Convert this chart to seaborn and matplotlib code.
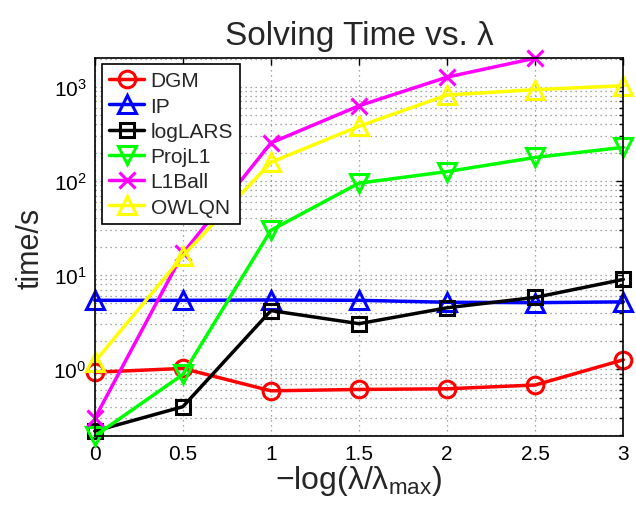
import numpy as np
import pandas as pd
import matplotlib
matplotlib.use("Agg")
import matplotlib.pyplot as plt
import matplotlib.ticker as mticker
import seaborn as sns

# values
lam = [0, 0.5, 1, 1.5, 2, 2.5, 3]
dgm = [0.93, 1.02, 0.59, 0.61, 0.62, 0.68, 1.26]
ip = [5.4, 5.4, 5.45, 5.4, 5.15, 5.1, 5.2]
loglars = [0.22, 0.40, 4.2, 3.05, 4.5, 5.8, 9.0]
projl1 = [0.195, 0.88, 30, 95, 126, 178, 228]
l1ball = [0.30, 17, 254, 630, 1270, 2020]
owlqn = [1.2, 16, 158, 382, 820, 935, 1030]

methods = ['DGM', 'IP', 'logLARS', 'ProjL1', 'L1Ball', 'OWLQN']
series = [dgm, ip, loglars, projl1, l1ball, owlqn]
colors = ['#ff0000', '#0000ff', '#000000', '#00ff00', '#ff00ff', '#ffff00']
markers = ['o', '^', 's', 'v', 'x', '^']
msizes = [12, 13, 10, 13, 11, 13]

sns.set_style("white")
plt.rcParams['font.family'] = ['Liberation Sans', 'DejaVu Sans']
plt.rcParams['mathtext.fontset'] = 'custom'
plt.rcParams['mathtext.rm'] = 'Liberation Sans'
plt.rcParams['mathtext.it'] = 'Liberation Sans:italic'

fig = plt.figure(figsize=(6.36, 5.10), dpi=100)
ax = fig.add_axes([0.149, 0.143, 0.831, 0.741])

for name, vals, c, m, ms in zip(methods, series, colors, markers, msizes):
    df = pd.DataFrame({'lam': lam[:len(vals)], 'time': vals})
    sns.lineplot(data=df, x='lam', y='time', ax=ax, color=c, marker=m,
                 markersize=ms, markerfacecolor='none', markeredgecolor=c,
                 markeredgewidth=2.2, linewidth=2.5, label=name, clip_on=False)

ax.set_yscale('log')
ax.set_xlim(0, 3)
all_vals = [v for s in series for v in s]
ax.set_ylim(min(all_vals), max(all_vals))

ax.xaxis.set_major_locator(mticker.FixedLocator(lam))
ax.xaxis.set_major_formatter(mticker.FormatStrFormatter('%g'))
ax.yaxis.set_major_locator(mticker.LogLocator(base=10))
ax.yaxis.set_minor_locator(mticker.LogLocator(base=10, subs=np.arange(2, 10)))
ax.yaxis.set_minor_formatter(mticker.NullFormatter())

# dotted grid like MATLAB's "grid on; grid minor"
ax.grid(True, which='major', axis='both', linestyle=(0, (1, 3)), color='#8a8a8a', linewidth=0.9)
ax.grid(True, which='minor', axis='y', linestyle=(0, (1, 3)), color='#8a8a8a', linewidth=0.9)
ax.set_axisbelow(True)

ax.tick_params(which='both', direction='in', top=True, right=True,
               labelsize=15, colors='black', width=1)
ax.tick_params(which='major', length=5, pad=6)
ax.tick_params(which='minor', length=3)
for sp in ax.spines.values():
    sp.set_color('black')
    sp.set_linewidth(1.2)

ax.set_title('Solving Time vs. λ', fontsize=24, pad=10)
ax.set_xlabel('−log(λ/λ$_{\\rm max}$)', fontsize=23, labelpad=0)
ax.set_ylabel('time/s', fontsize=22, labelpad=6)

leg = ax.legend(loc='upper left', bbox_to_anchor=(0.013, 0.984), borderaxespad=0,
                fontsize=15, frameon=True, fancybox=False, framealpha=1,
                edgecolor='black', handlelength=1.7, handletextpad=0.3,
                labelspacing=0.3, borderpad=0.35)
leg.get_frame().set_linewidth(1.2)

fig.savefig('out.png', dpi=100)
